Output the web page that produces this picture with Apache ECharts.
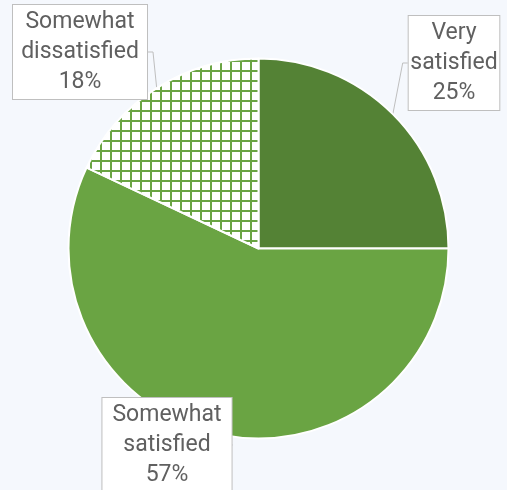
<!DOCTYPE html>
<html><head><meta charset="utf-8">
<script src="https://cdn.jsdelivr.net/npm/echarts@6/dist/echarts.min.js"></script>
<style>html,body{margin:0;padding:0;background:#f5f8fd;}#c{width:507px;height:490px;}</style>
</head><body><div id="c"></div>
<script>
const categories = ['Very\nsatisfied', 'Somewhat\nsatisfied', 'Somewhat\ndissatisfied'];
const values = [25, 57, 18];
const labelCenters = [[454, 63], [167, 445], [80, 52]];

const pc = document.createElement('canvas');
pc.width = 10; pc.height = 10;
const g = pc.getContext('2d');
g.fillStyle = '#ffffff'; g.fillRect(0, 0, 10, 10);
g.fillStyle = '#6aa443';
g.fillRect(0, 0, 2, 10);
g.fillRect(0, 0, 10, 2);

const colors = ['#548235', '#6aa443', { image: pc, repeat: 'repeat' }];

const chart = echarts.init(document.getElementById('c'));
chart.setOption({
  backgroundColor: '#f5f8fd',
  animation: false,
  series: [{
    type: 'pie',
    center: [258.5, 248.5],
    radius: 190,
    startAngle: 90,
    clockwise: true,
    data: categories.map((c, i) => ({ name: c, value: values[i], itemStyle: { color: colors[i] } })),
    itemStyle: { borderColor: '#ffffff', borderWidth: 2 },
    label: {
      show: true,
      position: 'outside',
      formatter: p => p.name + '\n' + p.value + '%',
      fontFamily: 'Roboto',
      fontSize: 23,
      lineHeight: 30,
      color: '#606060',
      align: 'center',
      overflow: 'none',
      backgroundColor: '#ffffff',
      borderColor: '#bfbfbf',
      borderWidth: 1,
      padding: [2, 10, 2, 10]
    },
    labelLine: { show: true, length: 5, length2: 5, lineStyle: { color: '#bfbfbf', width: 1 } },
    labelLayout: function (params) {
      const c = labelCenters[params.dataIndex];
      return { x: c[0], y: c[1], align: 'center', verticalAlign: 'middle' };
    }
  }]
});
</script></body></html>
